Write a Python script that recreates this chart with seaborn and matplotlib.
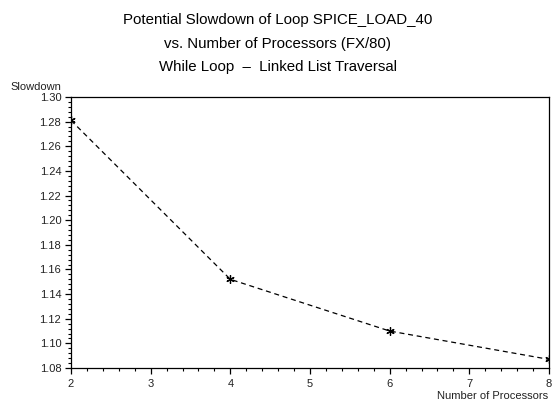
import matplotlib
matplotlib.use("Agg")
import matplotlib.pyplot as plt
import seaborn as sns
import pandas as pd
from matplotlib.ticker import MultipleLocator, FormatStrFormatter

processors = [2, 4, 6, 8]
slowdown = [1.281, 1.152, 1.110, 1.087]

df = pd.DataFrame({"Number of Processors": processors, "Slowdown": slowdown})

sns.set_theme(style="ticks")
plt.rcParams["font.family"] = ["Liberation Sans", "DejaVu Sans"]
plt.rcParams["text.color"] = "black"

fig = plt.figure(figsize=(5.55, 4.11), dpi=100)
ax = fig.add_axes([71 / 555, 1 - 368 / 411, (549 - 71) / 555, (368 - 97) / 411])

sns.lineplot(data=df, x="Number of Processors", y="Slowdown", ax=ax,
             color="black", linewidth=0.9, linestyle=(0, (4, 3)),
             marker=(6, 2, 0), markersize=6, markeredgewidth=0.9,
             markeredgecolor="black")

ax.set_xlim(2, 8)
ax.set_ylim(1.08, 1.30)
ax.xaxis.set_major_locator(MultipleLocator(1))
ax.xaxis.set_minor_locator(MultipleLocator(0.2))
ax.yaxis.set_major_locator(MultipleLocator(0.02))
ax.yaxis.set_minor_locator(MultipleLocator(0.004))
ax.yaxis.set_major_formatter(FormatStrFormatter("%.2f"))
ax.tick_params(which="major", length=4, width=0.9, labelsize=8, direction="out",
               colors="black", labelcolor="#222222")
ax.tick_params(which="minor", length=2, width=0.8, direction="out", colors="black")
ax.tick_params(axis="x", pad=4)
ax.tick_params(axis="y", pad=3)
for s in ax.spines.values():
    s.set_linewidth(0.9)
    s.set_color("black")

ax.set_xlabel("")
ax.set_ylabel("")
fig.text(548 / 555, 1 - 396 / 411, "Number of Processors", ha="right", va="center",
         fontsize=8, color="#222222")
fig.text(10 / 555, 1 - 87 / 411, "Slowdown", ha="left", va="center",
         fontsize=8, color="#222222")

titles = ["Potential Slowdown of Loop SPICE_LOAD_40",
          "vs. Number of Processors (FX/80)",
          "While Loop  \u2013  Linked List Traversal"]
for yy, t in zip([20, 44, 67], titles):
    fig.text(278 / 555, 1 - yy / 411, t, ha="center", va="center", fontsize=10.8,
             color="black")

fig.savefig("out.png", dpi=100)
